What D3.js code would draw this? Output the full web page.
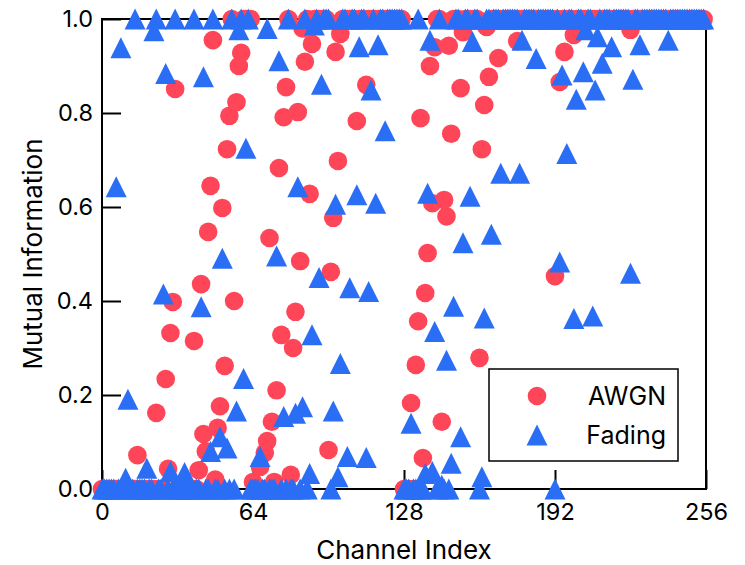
<!DOCTYPE html>
<html>
<head>
<meta charset="utf-8">
<script src="https://cdn.jsdelivr.net/npm/d3@7"></script>
<style>
    body { margin: 0; background: #fff; }
    svg text { font-family: Inter, "Noto Sans", sans-serif; fill: #000; }
</style>
</head>
<body>
<div id="chart"></div>
<script>
// channel index 0..255
const channels = d3.range(256);

// mutual information per channel (16 per row)
const awgn = [
    0, 0, 0, 0, 0, 0, 0, 0, 0, 0, 0, 0, 0, 0, 0, 0.072,
    0, 0, 0, 0, 0, 0, 0, 0.162, 0, 0, 0, 0.234, 0.043, 0.332, 0.398, 0.851,
    0, 0, 0, 0, 0, 0, 0, 0.315, 0, 0.04, 0.436, 0.117, 0.08, 0.547, 0.645, 0.955,
    0.02, 0.13, 0.176, 0.598, 0.262, 0.723, 0.794, 1, 0.40, 0.823, 0.90, 0.928, 1, 1, 1, 1,
    0.015, 0, 0, 0.047, 0, 0.077, 0.102, 0.534, 0.143, 0.015, 0.21, 0.683, 0.328, 0.791, 0.855, 1,
    0.03, 0.30, 0.377, 0.802, 0.485, 0.98, 0.909, 1, 0.628, 0.947, 1, 1, 1, 1, 1, 1,
    0.083, 0.462, 0.577, 0.93, 0.698, 0.968, 1, 1, 1, 1, 1, 1, 0.783, 1, 1, 1,
    0.86, 1, 1, 1, 1, 1, 1, 1, 1, 1, 1, 1, 1, 1, 1, 1,
    0, 0, 0, 0.183, 0, 0.264, 0.357, 0.789, 0.066, 0.417, 0.502, 0.90, 0.608, 0.94, 1, 1,
    0.143, 0.615, 0.58, 0.943, 0.756, 1, 1, 1, 0.853, 0.972, 1, 1, 1, 1, 1, 1,
    0.279, 0.723, 0.817, 0.983, 0.877, 1, 1, 1, 0.917, 1, 1, 1, 1, 1, 1, 1,
    0.953, 1, 1, 1, 1, 1, 1, 1, 1, 1, 1, 1, 1, 1, 1, 1,
    0.453, 1, 0.866, 1, 0.93, 1, 1, 1, 0.966, 1, 1, 1, 1, 1, 1, 1,
    1, 1, 1, 1, 1, 1, 1, 1, 1, 1, 1, 1, 1, 1, 1, 1,
    0.977, 1, 1, 1, 1, 1, 1, 1, 1, 1, 1, 1, 1, 1, 1, 1,
    1, 1, 1, 1, 1, 1, 1, 1, 1, 1, 1, 1, 1, 1, 1, 1
];

const fading = [
    0, 0, 0, 0, 0, 0, 0.643, 0, 0.939, 0, 0.023, 0.191, 0, 0, 1, 0,
    0, 0, 0, 0.044, 0, 0, 0.975, 1, 0, 0, 0.415, 0.884, 0, 0.037, 0, 1,
    0, 0, 0, 0.035, 0, 0, 0, 1, 0, 0, 0.388, 0.877, 0, 0, 0.08, 1,
    0, 0, 0.111, 0.491, 0, 0.087, 0, 1, 0, 0.166, 0.977, 1, 0.235, 0.725, 1, 0,
    0, 0, 0, 0.069, 0, 0, 0.98, 0, 0, 0, 0.496, 0.911, 0, 0.154, 0, 1,
    0, 0, 0.161, 0.643, 0, 0.175, 1, 0, 0.033, 0.328, 0.987, 1, 0.45, 0.861, 1, 1,
    1, 0, 0.166, 0.606, 0.026, 0.267, 1, 1, 0.069, 0.428, 1, 1, 0.626, 0.941, 1, 1,
    0.067, 0.42, 0.849, 1, 0.608, 0.945, 1, 1, 0.762, 1, 1, 1, 1, 1, 1, 1,
    0, 0, 0, 0.14, 0, 0, 1, 0, 0, 0.033, 0.629, 0.955, 0.037, 0.335, 0, 1,
    0.008, 0, 0.274, 0, 0.055, 0.389, 1, 1, 0.111, 0.524, 1, 1, 0.623, 0.952, 1, 1,
    0, 0.026, 0.364, 1, 1, 0.542, 1, 1, 1, 0.672, 1, 1, 1, 1, 1, 1,
    1, 0.672, 0.955, 1, 1, 1, 1, 1, 0.916, 1, 1, 1, 1, 1, 1, 1,
    0, 1, 0.483, 0.881, 1, 0.714, 1, 1, 0.363, 0.829, 1, 1, 0.888, 0.977, 1, 1,
    0.368, 0.849, 0.962, 1, 0.906, 1, 1, 1, 0.941, 1, 1, 1, 1, 1, 1, 1,
    0.459, 0.872, 1, 1, 0.945, 1, 1, 1, 1, 1, 1, 1, 1, 1, 1, 1,
    0.955, 1, 1, 1, 1, 1, 1, 1, 1, 1, 1, 1, 1, 1, 1, 1
];

const xTicks = [0, 64, 128, 192, 256];
const yTicks = [0, 0.2, 0.4, 0.6, 0.8, 1.0];
const seriesNames = ["AWGN", "Fading"];

const red = "#ff4558", blue = "#2b6ef6";

// triangle centred on its bounding box (like matplotlib "^")
const triUp = {
    draw(ctx, size) {
        const s = Math.sqrt(size) / 2;
        ctx.moveTo(0, -s);
        ctx.lineTo(s, s);
        ctx.lineTo(-s, s);
        ctx.closePath();
    }
};

const W = 745, H = 565;
const margin = { top: 19, right: 39, bottom: 76, left: 102 },
    w = W - margin.left - margin.right,
    h = H - margin.top - margin.bottom;

const svg = d3.select("#chart")
    .append("svg")
    .attr("width", W)
    .attr("height", H);

const g = svg.append("g")
    .attr("transform", `translate(${margin.left},${margin.top})`);

const x = d3.scaleLinear().domain([0, 256]).range([0, w]);
const y = d3.scaleLinear().domain([0, 1]).range([h, 0]);

// axes with inward ticks
const xAxis = g.append("g")
    .attr("transform", `translate(0,${h})`)
    .call(d3.axisBottom(x).tickValues(xTicks).tickSizeInner(-19).tickSizeOuter(0).tickPadding(14));
const yAxis = g.append("g")
    .call(d3.axisLeft(y).tickValues(yTicks).tickFormat(d3.format(".1f")).tickSizeInner(-19).tickSizeOuter(0).tickPadding(9));

[xAxis, yAxis].forEach(a => {
    a.select(".domain").remove();
    a.selectAll("line").attr("stroke", "#000").attr("stroke-width", 2);
    a.selectAll("text").style("font-size", "23.5px").attr("fill", "#000");
});

// frame
g.append("rect")
    .attr("width", w)
    .attr("height", h)
    .attr("fill", "none")
    .attr("stroke", "#000")
    .attr("stroke-width", 2);

// AWGN circles
g.append("g").selectAll("circle")
    .data(channels)
    .enter()
    .append("circle")
    .attr("cx", i => x(i))
    .attr("cy", i => y(awgn[i]))
    .attr("r", 9.3)
    .attr("fill", red);

// Fading triangles on top
const tri = d3.symbol().type(triUp).size(21 * 21);
g.append("g").selectAll("path")
    .data(channels)
    .enter()
    .append("path")
    .attr("transform", i => `translate(${x(i)},${y(fading[i])})`)
    .attr("d", tri)
    .attr("fill", blue);

// axis titles
svg.append("text")
    .attr("x", margin.left + w / 2)
    .attr("y", 559)
    .attr("text-anchor", "middle")
    .style("font-size", "26px")
    .text("Channel Index");

svg.append("text")
    .attr("transform", `translate(42,${margin.top + h / 2}) rotate(-90)`)
    .attr("text-anchor", "middle")
    .style("font-size", "26px")
    .text("Mutual Information");

// legend
const legend = svg.append("g").attr("transform", "translate(489,369)");
legend.append("rect")
    .attr("width", 189)
    .attr("height", 92)
    .attr("fill", "#fff")
    .attr("stroke", "#000")
    .attr("stroke-width", 1.5);

const rows = legend.selectAll(".row")
    .data(seriesNames)
    .enter()
    .append("g")
    .attr("transform", (d, i) => `translate(0,${27 + i * 39})`);

rows.append("path")
    .attr("transform", "translate(48,0)")
    .attr("d", (d, i) => i === 0 ? d3.symbol().type(d3.symbolCircle).size(Math.PI * 9.3 * 9.3)() : tri())
    .attr("fill", (d, i) => i === 0 ? red : blue);

rows.append("text")
    .attr("x", 177)
    .attr("dy", "0.35em")
    .attr("text-anchor", "end")
    .style("font-size", "25px")
    .text(d => d);
</script>
</body>
</html>
